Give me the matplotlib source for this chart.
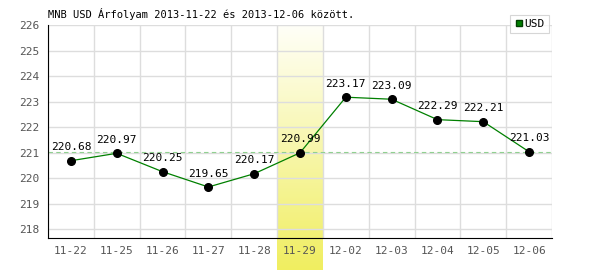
import matplotlib
matplotlib.use("Agg")
import matplotlib.pyplot as plt
import numpy as np
from matplotlib.colors import LinearSegmentedColormap

dates = ["11-22", "11-25", "11-26", "11-27", "11-28", "11-29", "12-02", "12-03", "12-04", "12-05", "12-06"]
usd = [220.68, 220.97, 220.25, 219.65, 220.17, 220.99, 223.17, 223.09, 222.29, 222.21, 221.03]
yticks = [218, 219, 220, 221, 222, 223, 224, 225, 226]
highlight = "11-29"
title = "MNB USD Árfolyam 2013-11-22 és 2013-12-06 között."

font = "DejaVu Sans Mono"
fig = plt.figure(figsize=(6, 2.7), dpi=100)
ax = fig.add_axes([0.08, 0.1185, 0.84, 0.7889])
x = np.arange(len(dates))
ax.set_xlim(-0.5, len(dates) - 0.5)
ax.set_ylim(217.65, 226)

# highlight band gradient
hi = dates.index(highlight)
cmap = LinearSegmentedColormap.from_list("band", ["#fffff8", "#f0ee60"])
grad = np.linspace(0, 1, 256).reshape(-1, 1)
ylo = 217.65 - 32 / 25.5
im = ax.imshow(grad, cmap=cmap, aspect="auto", extent=[hi - 0.5, hi + 0.5, ylo, 226],
               origin="upper", zorder=0, clip_on=False)

for v in np.arange(-0.5, len(dates), 1.0):
    ax.axvline(v, color="#dddddd", lw=1, zorder=1)
for t in yticks:
    ax.axhline(t, color="#dddddd", lw=1, zorder=1)

ax.axhline(usd[-1], color="#90d090", lw=0.8, ls=(0, (4, 3)), zorder=2)
ax.plot(x, usd, color="#008000", lw=0.9, zorder=3)
ax.plot(x, usd, "o", color="black", ms=5.5, zorder=4)
for xi, v in zip(x, usd):
    ax.annotate(f"{v:.2f}", (xi, v), xytext=(0, 6), textcoords="offset points",
                ha="center", va="bottom", fontsize=8, family=font, color="black", zorder=5)

ax.set_xticks(x)
ax.set_xticklabels(dates, family=font, fontsize=8, color="#555555")
ax.set_yticks(yticks)
ax.set_yticklabels([str(t) for t in yticks], family=font, fontsize=8, color="#555555")
ax.tick_params(length=0, pad=6)
for s in ["top", "right"]:
    ax.spines[s].set_visible(False)
ax.spines["left"].set_color("black")
ax.spines["bottom"].set_color("black")
ax.set_facecolor("none")

fig.text(48 / 600, 1 - 14 / 270, title, family=font, fontsize=7.5, color="black", va="center", ha="left")

# legend box
lg = ax.legend(handles=[plt.Line2D([], [], marker="s", ls="", color="#008000", mec="#004000", ms=5)],
               labels=["USD"], loc="upper right", bbox_to_anchor=(1.005, 1.075), frameon=True,
               prop={"family": font, "size": 8}, handletextpad=0.1, borderpad=0.4,
               handlelength=0.8, fancybox=False)
lg.get_frame().set_edgecolor("#cccccc")
lg.get_frame().set_linewidth(0.8)

fig.savefig("out.png", dpi=100)
